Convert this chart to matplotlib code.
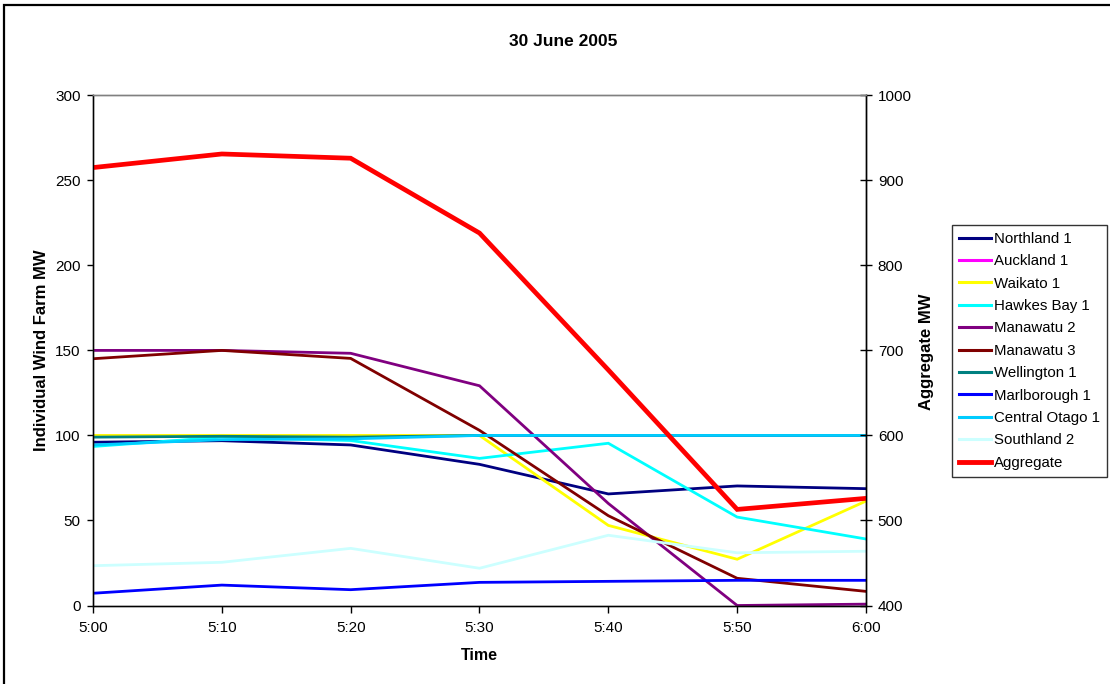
import matplotlib
matplotlib.use("Agg")
import matplotlib.pyplot as plt
from matplotlib.lines import Line2D
from matplotlib.patches import Rectangle

plt.rcParams['font.family'] = ['Liberation Sans', 'DejaVu Sans']

times = ["5:00", "5:10", "5:20", "5:30", "5:40", "5:50", "6:00"]

northland_1 = [96, 96.9, 94.4, 83, 65.6, 70.3, 68.7]
auckland_1 = [100, 100, 100, 100, 100, 100, 100]
waikato_1 = [100, 100, 100, 100, 47.1, 27.2, 61.4]
hawkes_bay_1 = [93.5, 99, 97, 86.5, 95.4, 52, 39.1]
manawatu_2 = [150, 150, 148.3, 129.2, 60, 0, 0.8]
manawatu_3 = [145.1, 150, 145.3, 103, 52.8, 16, 8.3]
wellington_1 = [99, 99.5, 99, 100, 100, 100, 100]
marlborough_1 = [7.2, 12, 9.3, 13.6, 14.2, 14.8, 14.8]
central_otago_1 = [94.4, 97.5, 98, 100, 100, 100, 100]
southland_2 = [23.4, 25.4, 33.6, 21.9, 41.3, 31, 31.9]
aggregate = [915, 931, 926, 838, 677, 513, 526]

series = [
    ("Northland 1", northland_1, "#000080"),
    ("Auckland 1", auckland_1, "#FF00FF"),
    ("Waikato 1", waikato_1, "#FFFF00"),
    ("Hawkes Bay 1", hawkes_bay_1, "#00FFFF"),
    ("Manawatu 2", manawatu_2, "#800080"),
    ("Manawatu 3", manawatu_3, "#800000"),
    ("Wellington 1", wellington_1, "#008080"),
    ("Marlborough 1", marlborough_1, "#0000FF"),
    ("Central Otago 1", central_otago_1, "#00CCFF"),
    ("Southland 2", southland_2, "#CCFFFF"),
]

W, H = 1110, 684
fig = plt.figure(figsize=(W / 100, H / 100), dpi=100)

# outer chart border (runs off the right and bottom of the page)
fig.patches.append(Rectangle((3.5 / W, -0.1), 1.2, 1.1 - 5 / H, transform=fig.transFigure,
                             fill=False, edgecolor="black", linewidth=1.6, clip_on=False))

left, right, top, bottom = 93, 866, 95.3, 605.5
ax = fig.add_axes([left / W, 1 - bottom / H, (right - left) / W, (bottom - top) / H])
ax2 = ax.twinx()

x = list(range(len(times)))
handles = []
for name, vals, col in series:
    ax.plot(x, vals, color=col, linewidth=2.0, solid_joinstyle="miter")
    handles.append(Line2D([], [], color=col, linewidth=2.2, label=name))
ax2.plot(x, aggregate, color="#FF0000", linewidth=3.4, solid_joinstyle="miter")
handles.append(Line2D([], [], color="#FF0000", linewidth=3.5, label="Aggregate"))

ax.set_xlim(0, len(times) - 1)
ax.set_ylim(0, 300)
ax.set_yticks(range(0, 301, 50))
ax.set_xticks(x)
ax.set_xticklabels(times)
ax2.set_ylim(400, 1000)
ax2.set_yticks(range(400, 1001, 100))

for a in (ax, ax2):
    a.set_zorder(1)
    for s in a.spines.values():
        s.set_linewidth(1.0)
    a.spines['top'].set_color("#808080")
ax.patch.set_visible(False)
ax.spines['left'].set_color("#404040")
ax.spines['bottom'].set_color("#404040")
ax2.spines['right'].set_color("black")

ax.tick_params(axis='y', direction='out', length=4, width=1, labelsize=11, pad=5)
ax.tick_params(axis='x', direction='out', length=5, width=1, labelsize=11, pad=6)
ax2.tick_params(axis='y', direction='inout', length=9, width=1, labelsize=11, pad=4)

fig.text(42 / W, 1 - 350 / H, "Individual Wind Farm MW", rotation=90,
         ha="center", va="center", fontsize=12, fontweight="bold")
fig.text(926 / W, 1 - 352 / H, "Aggregate MW", rotation=90,
         ha="center", va="center", fontsize=12, fontweight="bold")
fig.text(479.5 / W, 1 - 655 / H, "Time", ha="center", va="center",
         fontsize=11.5, fontweight="bold")
fig.text(563 / W, 1 - 42 / H, "30 June 2005", ha="center", va="center",
         fontsize=12.5, fontweight="bold")

leg = fig.legend(handles=handles, loc="upper left",
                 bbox_to_anchor=(952 / W, 1 - 225 / H), fontsize=10.8,
                 frameon=True, fancybox=False, handlelength=2.15, handletextpad=0.2,
                 labelspacing=0.56, borderpad=0.45, borderaxespad=0)
leg.get_frame().set_edgecolor("black")
leg.get_frame().set_linewidth(1.0)

fig.savefig("out.png", dpi=100)
